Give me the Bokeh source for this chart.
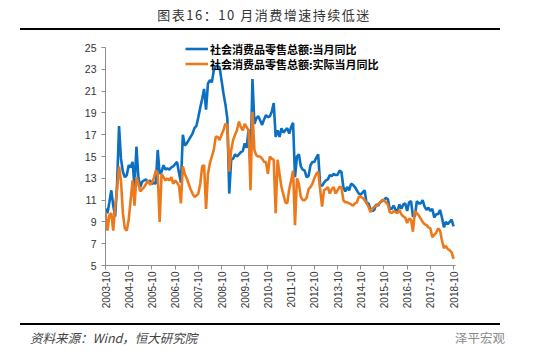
import pandas as pd
from bokeh.plotting import figure
from bokeh.layouts import column
from bokeh.models import (ColumnDataSource, Range1d, FixedTicker, Legend, LegendItem, Div)
from bokeh.embed import file_html
from bokeh.resources import INLINE

# ---------------- data ----------------
months = [d.strftime("%Y-%m") for d in pd.date_range("2003-10-01", "2018-10-01", freq="MS")]

nominal = [
    10.2, 9.8, 10.8, 11.9, 10.5, 9.5, 12.5, 17.8, 14.8, 13.6, 13.1, 13.3,
    14.2, 14.0, 14.5, 12.2, 15.9, 13.1, 12.2, 12.7, 12.8, 12.9, 12.6, 12.8,
    12.5, 12.6, 12.5, 15.6, 13.4, 13.6, 14.2, 13.8, 13.9, 13.8, 14.0, 14.1,
    14.3, 14.5, 13.5, 12.6, 17.0, 16.0, 16.2, 16.5, 16.8, 17.1, 17.6, 17.8,
    18.6, 19.5, 20.3, 21.2, 19.3, 21.7, 22.0, 21.8, 22.9, 23.3, 23.3, 23.2,
    22.0, 20.8, 19.8, 18.5, 11.6, 14.7, 14.8, 15.2, 15.0, 15.2, 15.4, 15.5,
    16.2, 15.8, 17.5, 14.1, 22.1, 18.0, 18.5, 18.7, 18.3, 17.9, 18.4, 18.8,
    18.6, 18.7, 19.1, 19.9, 16.8, 17.4, 16.8, 17.6, 17.2, 17.4, 17.6, 17.1,
    17.7, 18.1, 13.1, 15.0, 15.2, 14.1, 13.8, 13.7, 13.1, 13.2, 14.2, 14.5,
    14.5, 14.9, 15.2, 12.4, 12.3, 12.6, 12.8, 12.9, 13.3, 13.2, 13.4, 13.3,
    13.3, 13.7, 13.6, 12.2, 11.8, 12.2, 11.9, 12.5, 12.4, 12.2, 11.9, 11.6,
    11.5, 11.7, 11.9, 10.7, 10.7, 10.2, 10.0, 10.1, 10.6, 10.5, 10.8, 10.9,
    11.0, 11.2, 11.1, 10.2, 10.2, 10.5, 10.1, 10.0, 10.6, 10.2, 10.6, 10.7,
    10.0, 10.8, 10.9, 9.5, 9.5, 10.9, 10.7, 10.7, 11.0, 10.4, 10.1, 10.3,
    10.0, 10.2, 9.4, 9.7, 9.7, 10.1, 9.4, 8.5, 9.0, 8.8, 9.0, 9.2,
    8.6,
]

real = [
    9.9, 8.2, 9.6, 9.8, 8.2, 10.4, 12.0, 14.1, 12.8, 9.8, 8.4, 8.2,
    9.2, 11.0, 12.8, 10.5, 13.1, 12.5, 11.8, 12.0, 12.2, 12.5, 12.8, 12.4,
    12.6, 13.0, 13.7, 13.4, 9.0, 13.4, 13.1, 12.8, 13.0, 12.8, 13.1, 12.5,
    12.8, 12.6, 12.3, 10.7, 14.1, 13.4, 13.0, 12.5, 12.0, 11.6, 11.3, 11.4,
    11.6, 12.5, 14.1, 14.2, 10.2, 13.4, 14.4, 15.0, 15.6, 16.8, 16.8, 16.5,
    17.0, 17.4, 18.0, 17.9, 13.6, 15.6, 16.5, 17.0, 17.4, 18.2, 17.7, 17.4,
    18.0, 17.7, 17.4, 11.9, 19.1, 15.6, 15.1, 15.0, 15.0, 14.8, 14.5, 14.5,
    13.4, 15.0, 14.8, 14.7, 9.8, 14.7, 13.4, 12.2, 11.5, 10.8, 10.7, 12.0,
    12.8, 13.7, 8.7, 13.0, 12.5, 11.3, 11.0, 11.0, 11.2, 12.0, 12.2, 12.5,
    13.0, 13.4, 13.6, 12.0, 10.4, 11.9, 12.0, 12.2, 11.6, 12.0, 12.2, 11.6,
    11.9, 12.2, 12.2, 11.0, 10.8, 10.8, 10.7, 10.6, 10.5, 10.7, 10.8, 11.3,
    11.3, 11.2, 11.0, 10.7, 10.4, 9.9, 10.2, 10.4, 10.5, 10.6, 10.8, 11.0,
    11.0, 10.8, 10.6, 9.9, 9.8, 10.0, 9.9, 9.8, 10.1, 9.7, 9.5, 9.4,
    8.9, 9.3, 9.2, 8.1, 10.0, 9.8, 9.6, 9.3, 9.0, 8.8, 8.7, 8.5,
    8.4, 7.6, 7.8, 8.0, 8.4, 8.2, 7.3, 6.6, 6.8, 6.5, 6.4, 6.2,
    5.6,
]

series_names = ["社会消费品零售总额:当月同比", "社会消费品零售总额:实际当月同比"]
y_ticks = [5, 7, 9, 11, 13, 15, 17, 19, 21, 23, 25]
title_text = "图表16：10 月消费增速持续低迷"
source_text = "资料来源：Wind，恒大研究院"
brand_text = "泽平宏观"

# ---------------- styling ----------------
BLUE = "#0B6FC2"
ORANGE = "#EC7A1C"
CJK = "Noto Sans CJK SC"
NUM = "Liberation Sans"

idx = list(range(len(months)))
src = ColumnDataSource(dict(x=idx, nominal=nominal, real=real))

W = 550
PX_PER_UNIT = 10.9
top_pad = 7 / PX_PER_UNIT  # room above the 25 tick for the legend

p = figure(width=W, height=288, output_backend="svg", toolbar_location=None,
           x_range=Range1d(0, len(months)),
           y_range=Range1d(min(y_ticks), max(y_ticks) + top_pad),
           min_border_left=105, min_border_right=95, min_border_top=10, min_border_bottom=53)
p.outline_line_color = None
p.xgrid.visible = False
p.ygrid.visible = False
p.background_fill_color = "white"
p.border_fill_color = "white"

r1 = p.line("x", "nominal", source=src, line_color=BLUE, line_width=2.6)
r2 = p.line("x", "real", source=src, line_color=ORANGE, line_width=2.6)

# y axis
yax = p.yaxis[0]
yax.ticker = FixedTicker(ticks=y_ticks)
yax.bounds = (min(y_ticks), max(y_ticks))
yax.major_label_text_font = NUM
yax.major_label_text_font_size = "10.5px"
yax.major_label_text_color = "#333333"
yax.axis_line_color = "#8c8c8c"
yax.major_tick_line_color = "#8c8c8c"
yax.major_tick_out = 4
yax.major_tick_in = 0
yax.minor_tick_line_color = None
yax.major_label_standoff = 5

# x axis
tick_pos = [i for i, m in enumerate(months) if m.endswith("-10")]
xax = p.xaxis[0]
xax.ticker = FixedTicker(ticks=tick_pos)
xax.major_label_overrides = {i: months[i] for i in tick_pos}
xax.major_label_orientation = 1.5707963
xax.major_label_text_font = NUM
xax.major_label_text_font_size = "10px"
xax.major_label_text_color = "#333333"
xax.axis_line_color = "#8c8c8c"
xax.major_tick_line_color = "#8c8c8c"
xax.major_tick_out = 4
xax.major_tick_in = 0
xax.minor_tick_line_color = None
xax.major_label_standoff = 2


def make_legend(item, loc):
    lg = Legend(items=[item], location=loc, orientation="vertical")
    lg.label_text_font = CJK
    lg.label_text_font_size = "11px"
    lg.label_text_font_style = "bold"
    lg.label_text_color = "#000000"
    lg.glyph_width = 23
    lg.glyph_height = 17
    lg.label_height = 17
    lg.label_standoff = 2
    lg.spacing = 0
    lg.padding = 0
    lg.margin = 0
    lg.border_line_color = None
    lg.background_fill_alpha = 0
    return lg


p.add_layout(make_legend(LegendItem(label=series_names[0], renderers=[r1]), (80, 208)), "center")
p.add_layout(make_legend(LegendItem(label=series_names[1], renderers=[r2]), (80, 193)), "center")

# ---------------- title and footer ----------------
title_html = (
    '<div style="position:relative;width:550px;height:30px;">'
    '<div style="position:absolute;left:0;top:6px;width:528px;text-align:center;'
    "font-family:'Noto Sans CJK SC';font-size:13px;line-height:18px;color:#333;letter-spacing:1.5px;\">"
    + title_text +
    '</div>'
    '<div style="position:absolute;left:20px;top:28px;width:480px;height:2px;background:#000;"></div>'
    '</div>'
)
footer_html = (
    '<div style="position:relative;width:550px;height:44px;">'
    '<div style="position:absolute;left:20px;top:5px;width:480px;height:2px;background:#000;"></div>'
    '<div style="position:absolute;left:30px;top:11px;'
    "font-family:'Noto Sans CJK SC';font-size:12.5px;line-height:18px;font-style:italic;color:#444;\">"
    + source_text +
    '</div>'
    '<div style="position:absolute;right:45px;top:11px;'
    "font-family:'Noto Sans CJK SC';font-size:12.5px;line-height:18px;color:#8a8a8a;\">"
    + brand_text +
    '</div>'
    '</div>'
)
title_div = Div(text=title_html, width=W, height=30, margin=(0, 0, 0, 0))
footer_div = Div(text=footer_html, width=W, height=44, margin=(0, 0, 0, 0))

layout = column(title_div, p, footer_div, spacing=0, margin=(0, 0, 0, 0))

open("out.html", "w").write(file_html(layout, INLINE))
